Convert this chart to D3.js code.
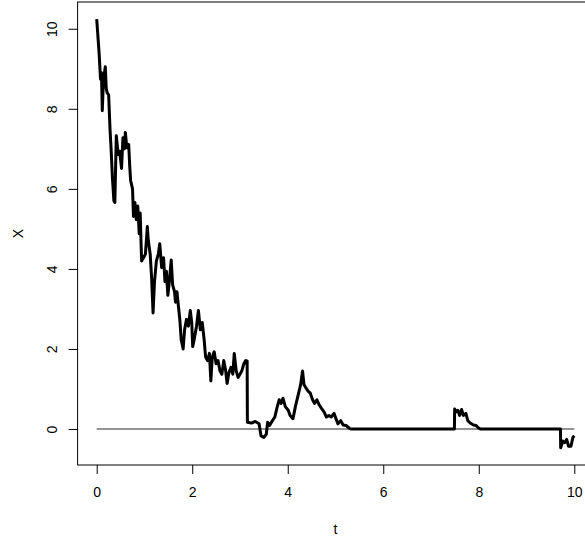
<!DOCTYPE html>
<html>
<head>
<meta charset="utf-8">
<script src="https://cdn.jsdelivr.net/npm/d3@7/dist/d3.min.js"></script>
<style>
  html, body { margin: 0; padding: 0; background: #fff; }
  svg { display: block; }
  text { font-family: "Liberation Sans", Arial, Helvetica, sans-serif; }
</style>
</head>
<body>
<svg id="chart" width="585" height="538"></svg>
<script>
// ---- data ----
const tValues = [0, 0.05, 0.08, 0.10, 0.117, 0.14, 0.18, 0.20, 0.22, 0.25, 0.28, 0.30, 0.33, 0.36, 0.38,
  0.41, 0.45, 0.48, 0.52, 0.55, 0.58, 0.60, 0.63, 0.67, 0.69, 0.71, 0.75, 0.77, 0.80, 0.83, 0.86, 0.89, 0.91,
  0.94, 0.98, 1.02, 1.06, 1.08, 1.10, 1.12, 1.15, 1.18, 1.21, 1.25, 1.29, 1.32, 1.36, 1.40, 1.43, 1.46, 1.49,
  1.52, 1.56, 1.59, 1.63, 1.65, 1.68, 1.71, 1.74, 1.77, 1.81, 1.84, 1.88, 1.92, 1.96, 1.99, 2.01, 2.04, 2.09,
  2.13, 2.17, 2.21, 2.25, 2.28, 2.32, 2.36, 2.39, 2.42, 2.46, 2.50, 2.54, 2.58, 2.62, 2.66, 2.70, 2.73, 2.77,
  2.81, 2.85, 2.88, 2.92, 2.96, 3.00, 3.04, 3.08, 3.12, 3.14, 3.15, 3.155, 3.24, 3.32, 3.40, 3.44, 3.50, 3.55,
  3.58, 3.62, 3.68, 3.73, 3.77, 3.82, 3.86, 3.90, 3.95, 4.01, 4.05, 4.11, 4.16, 4.22, 4.27, 4.31, 4.34, 4.38,
  4.43, 4.47, 4.52, 4.56, 4.61, 4.66, 4.71, 4.76, 4.81, 4.86, 4.91, 4.97, 5.01, 5.05, 5.11, 5.16, 5.22, 5.29,
  5.32, 7.49, 7.495, 7.52, 7.56, 7.60, 7.64, 7.68, 7.73, 7.77, 7.82, 7.89, 7.94, 8.00, 8.04, 9.71, 9.715, 9.76,
  9.80, 9.84, 9.88, 9.93, 9.97, 10.0];
const xValues = [10.24, 9.4, 8.74, 8.9, 7.95, 8.7, 9.05, 8.5, 8.40, 8.35, 7.46, 7.03, 6.26, 5.70, 5.66,
  7.33, 6.86, 6.94, 6.51, 7.28, 7.0, 7.41, 7.03, 7.11, 6.60, 6.21, 6.0, 5.31, 5.66, 5.23, 5.57, 4.88, 5.40,
  4.20, 4.28, 4.37, 5.06, 4.71, 4.54, 4.37, 3.77, 2.90, 3.68, 4.20, 4.37, 4.63, 4.03, 4.28, 3.68, 3.94, 3.34,
  3.68, 4.22, 3.60, 3.43, 3.17, 3.43, 3.08, 2.74, 2.23, 2.0, 2.48, 2.74, 2.57, 2.96, 2.66, 2.06, 2.23, 2.57,
  2.96, 2.48, 2.66, 2.23, 1.80, 1.71, 1.89, 1.20, 1.80, 1.93, 1.63, 1.71, 1.46, 1.37, 1.71, 1.46, 1.14, 1.41,
  1.54, 1.37, 1.89, 1.46, 1.29, 1.37, 1.46, 1.63, 1.71, 1.63, 1.70, 0.17, 0.15, 0.19, 0.13, -0.17, -0.21, -0.13,
  0.17, 0.09, 0.21, 0.30, 0.51, 0.73, 0.64, 0.77, 0.56, 0.47, 0.34, 0.26, 0.56, 0.86, 1.11, 1.45, 1.11, 1.03,
  0.94, 0.90, 0.73, 0.64, 0.73, 0.60, 0.51, 0.43, 0.30, 0.34, 0.30, 0.39, 0.26, 0.13, 0.21, 0.10, 0.09, 0.02,
  0, 0, 0.50, 0.43, 0.47, 0.34, 0.49, 0.34, 0.39, 0.21, 0.15, 0.10, 0.09, 0.02, 0, 0, -0.47, -0.30,
  -0.34, -0.26, -0.43, -0.43, -0.21, -0.17];
const xTicks = [0, 2, 4, 6, 8, 10];
const yTicks = [0, 2, 4, 6, 8, 10];
const xLabel = "t";
const yLabel = "X";

// ---- layout (R-style 4% axis extension) ----
const plotLeft = 77.6, plotRight = 593.4, plotTop = 2, plotBottom = 465;
const tExt = d3.extent(tValues), xExt = d3.extent(xValues);
const tPad = (tExt[1] - tExt[0]) * 0.04, xPad = (xExt[1] - xExt[0]) * 0.04;
const xScale = d3.scaleLinear().domain([tExt[0] - tPad, tExt[1] + tPad]).range([plotLeft, plotRight]);
const yScale = d3.scaleLinear().domain([xExt[0] - xPad, xExt[1] + xPad]).range([plotBottom, plotTop]);

const svg = d3.select("#chart");
const data = tValues.map((t, i) => ({ t, x: xValues[i] }));

// zero reference line
svg.append("line")
  .attr("x1", xScale(0)).attr("x2", xScale(10))
  .attr("y1", yScale(0)).attr("y2", yScale(0))
  .attr("stroke", "#707070").attr("stroke-width", 1.5);

// path
svg.append("path")
  .datum(data)
  .attr("fill", "none")
  .attr("stroke", "#000")
  .attr("stroke-width", 3)
  .attr("stroke-linejoin", "round")
  .attr("d", d3.line().x(d => xScale(d.t)).y(d => yScale(d.x)));

// axes
const xAxis = svg.append("g")
  .attr("transform", `translate(0,${plotBottom})`)
  .call(d3.axisBottom(xScale).tickValues(xTicks).tickSize(9).tickPadding(13).tickFormat(d3.format("d")));
xAxis.select(".domain").remove();
xAxis.selectAll("text").attr("font-size", 14).attr("fill", "#000");
xAxis.selectAll("line").attr("stroke", "#000");

const yAxis = svg.append("g")
  .attr("transform", `translate(${plotLeft},0)`)
  .call(d3.axisLeft(yScale).tickValues(yTicks).tickSize(9).tickFormat(d3.format("d")));
yAxis.select(".domain").remove();
yAxis.selectAll("line").attr("stroke", "#000");
yAxis.selectAll("text")
  .attr("x", null).attr("dy", null)
  .attr("font-size", 14).attr("fill", "#000")
  .attr("text-anchor", "middle")
  .attr("transform", "translate(-21,0) rotate(-90)");

// box
svg.append("rect")
  .attr("x", plotLeft).attr("y", plotTop)
  .attr("width", plotRight - plotLeft).attr("height", plotBottom - plotTop)
  .attr("fill", "none").attr("stroke", "#000").attr("stroke-width", 1);

// axis titles
svg.append("text")
  .attr("x", (plotLeft + plotRight) / 2).attr("y", 534)
  .attr("text-anchor", "middle").attr("font-size", 14).text(xLabel);
svg.append("text")
  .attr("transform", `translate(22.5,${(plotTop + plotBottom) / 2}) rotate(-90)`)
  .attr("text-anchor", "middle").attr("font-size", 14).text(yLabel);
</script>
</body>
</html>
